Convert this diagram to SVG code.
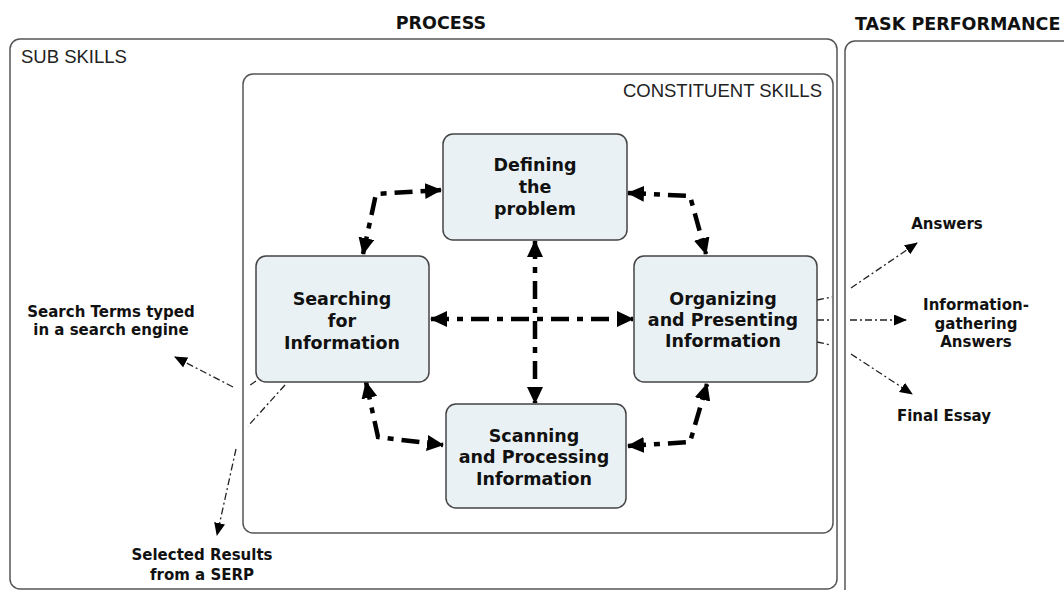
<svg xmlns="http://www.w3.org/2000/svg" width="1064" height="590" viewBox="0 0 1064 590">
<style>
.frame{fill:none;stroke:#555;stroke-width:1.5}
.box{fill:#eaf1f4;stroke:#444;stroke-width:1.5}
.head{font-family:"DejaVu Sans",Verdana,sans-serif;font-weight:bold;font-size:17.5px;fill:#111}
.sec{font-family:"Liberation Sans",Arial,sans-serif;font-size:18.5px;fill:#222}
.nt{font-family:"DejaVu Sans",Verdana,sans-serif;font-weight:bold;font-size:17.5px;fill:#111;text-anchor:middle}
.lt{font-family:"DejaVu Sans",Verdana,sans-serif;font-weight:bold;font-size:15px;fill:#111;text-anchor:middle}
.thick{fill:none;stroke:#000;stroke-width:4.5;stroke-dasharray:18 8 6 8;marker-start:url(#big);marker-end:url(#big)}
.thin{fill:none;stroke:#222;stroke-width:1.3;stroke-dasharray:7 3 2 3;marker-end:url(#small)}
</style>
<defs>
<marker id="big" markerUnits="userSpaceOnUse" markerWidth="17" markerHeight="16" viewBox="0 0 17 16" refX="16" refY="8" orient="auto-start-reverse">
<path d="M0,0 L17,8 L0,16 z" fill="#000"/>
</marker>
<marker id="small" markerUnits="userSpaceOnUse" markerWidth="13" markerHeight="11" viewBox="0 0 13 11" refX="12" refY="5.5" orient="auto">
<path d="M0,0 L13,5.5 L0,11 z" fill="#000"/>
</marker>
</defs>
<rect width="1064" height="590" fill="#fff"/>

<g id="frames">
<text class="head" x="441" y="29" text-anchor="middle">PROCESS</text>
<text class="head" x="855" y="30">TASK PERFORMANCE</text>
<rect class="frame" x="10" y="39" width="827" height="550" rx="10"/>
<rect class="frame" x="845" y="41" width="240" height="560" rx="10"/>
<text class="sec" x="21" y="63">SUB SKILLS</text>
<rect class="frame" x="243" y="74" width="590" height="459" rx="10"/>
<text class="sec" x="822" y="97" text-anchor="end">CONSTITUENT SKILLS</text>
</g>

<g id="connectors">
<path class="thick" d="M363,254 L376,194 L441,190"/>
<path class="thick" d="M628,193 L690,196 L706,254"/>
<path class="thick" d="M366,382 L378,437 L443,445"/>
<path class="thick" d="M628,446 L690,442 L707,384"/>
<path class="thick" d="M431,319 L633,319"/>
<path class="thick" d="M535,241 L535,403"/>
<path class="thin" d="M256,381 L249,386 M233,387 L175,357"/>
<path class="thin" d="M285,385 L248,426 M236,449 L217,535"/>
<path class="thin" d="M817,300 L832,297 M851,288 L917,243"/>
<path class="thin" d="M817,320 L832,320 M850,320 L906,320"/>
<path class="thin" d="M817,342 L831,345 M851,354 L912,394"/>
</g>

<g id="defining">
<rect class="box" x="443" y="134" width="184" height="106" rx="10"/>
<text class="nt" x="535" y="171">Defining</text>
<text class="nt" x="535" y="193">the</text>
<text class="nt" x="535" y="215">problem</text>
</g>
<g id="searching">
<rect class="box" x="256" y="256" width="173" height="126" rx="10"/>
<text class="nt" x="342" y="305">Searching</text>
<text class="nt" x="342" y="327">for</text>
<text class="nt" x="342" y="349">Information</text>
</g>
<g id="organizing">
<rect class="box" x="634" y="256" width="183" height="126" rx="10"/>
<text class="nt" x="723" y="305">Organizing</text>
<text class="nt" x="723" y="326">and Presenting</text>
<text class="nt" x="723" y="347">Information</text>
</g>
<g id="scanning">
<rect class="box" x="446" y="404" width="180" height="104" rx="10"/>
<text class="nt" x="534" y="442">Scanning</text>
<text class="nt" x="534" y="463">and Processing</text>
<text class="nt" x="534" y="485">Information</text>
</g>

<g id="search-terms">
<text class="lt" x="111" y="317">Search Terms typed</text>
<text class="lt" x="111" y="335">in a search engine</text>
</g>
<g id="selected-results">
<text class="lt" x="202" y="560">Selected Results</text>
<text class="lt" x="202" y="580">from a SERP</text>
</g>
<g id="answers">
<text class="lt" x="947" y="229">Answers</text>
</g>
<g id="info-answers">
<text class="lt" x="976" y="310">Information-</text>
<text class="lt" x="976" y="329">gathering</text>
<text class="lt" x="976" y="347">Answers</text>
</g>
<g id="final-essay">
<text class="lt" x="944" y="421">Final Essay</text>
</g>
</svg>
